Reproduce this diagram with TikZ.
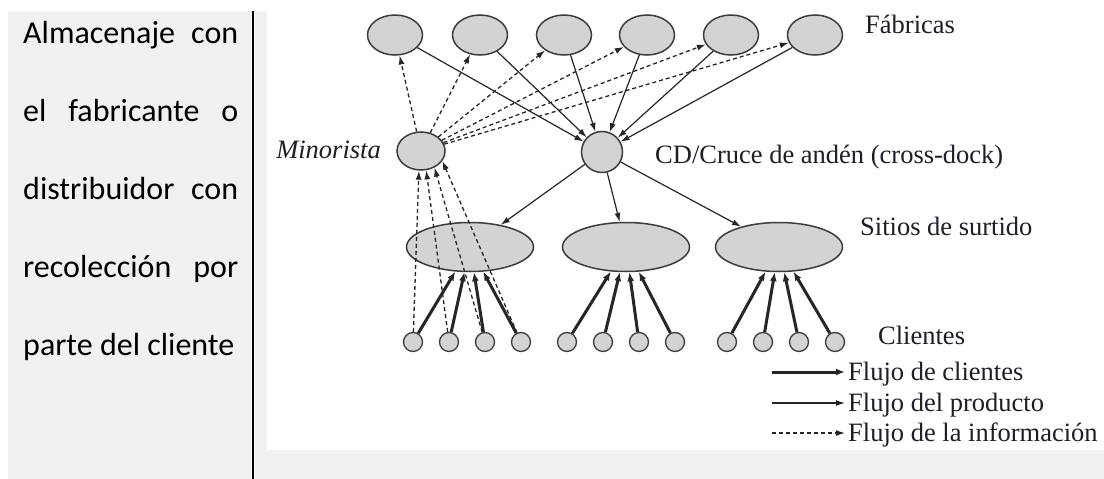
\documentclass[tikz,border=0pt]{standalone}
\usepackage{fontspec}
\setmainfont{Liberation Serif}
\newfontfamily\calfont{Carlito}
\usetikzlibrary{shapes.geometric,arrows.meta}
\definecolor{panel}{HTML}{F1F1F1}
\definecolor{nodefill}{HTML}{D1D3D4}
\definecolor{nodeline}{HTML}{3C3C3C}
\definecolor{ink}{HTML}{1E1E2A}
\definecolor{arrowc}{HTML}{262626}
\begin{document}
\begin{tikzpicture}[x=1pt,y=-1pt,
  fab/.style={ellipse,draw=nodeline,fill=nodefill,line width=1.5pt,minimum width=55pt,minimum height=40pt,inner sep=0pt},
  ret/.style={fab,minimum width=48pt,minimum height=38pt},
  cdnode/.style={circle,draw=nodeline,fill=nodefill,line width=1.5pt,minimum size=41pt,inner sep=0pt},
  site/.style={fab,minimum width=127pt,minimum height=49pt},
  cli/.style={circle,draw=nodeline,fill=nodefill,line width=1.3pt,minimum size=19pt,inner sep=0pt},
  lbl/.style={font=\fontsize{26.5}{30}\selectfont,text=ink,inner sep=0pt},
  prod/.style={draw=arrowc,line width=1.2pt,-{Latex[length=9pt,width=6pt]}},
  cust/.style={draw=arrowc,line width=3pt,-{Latex[length=9pt,width=7pt]}},
  info/.style={draw=arrowc,line width=1.3pt,dash pattern=on 4pt off 3pt,-{Latex[length=9pt,width=6pt]}},
  side/.style={font=\calfont\fontsize{32}{36}\selectfont,text=black,inner sep=0pt,anchor=base west},
]
\useasboundingbox (0,0) rectangle (1104,479);
\fill[white] (0,0) rectangle (1104,479);
\fill[panel] (8,11) rectangle (251,479);
\fill[panel] (255,11) rectangle (1104,479);
\fill[white] (267,11) rectangle (1104,450);
\draw[line width=2pt] (253,11) -- (253,479);

% left text
\node[side] (t1) at (23,43) {\makebox[215pt][s]{Almacenaje con}};
\node[side] (t2) at (23,121) {\makebox[215pt][s]{el fabricante o}};
\node[side] (t3) at (23,199) {\makebox[215pt][s]{distribuidor con}};
\node[side] (t4) at (23,277) {\makebox[215pt][s]{recolección por}};
\node[side] (t5) at (23,355) {parte del cliente};

% factories
\foreach \i/\x in {1/395,2/480,3/564,4/647,5/731,6/815} \node[fab] (f\i) at (\x,35) {};
\node[lbl,anchor=base west] (fablbl) at (865,34) {Fábricas};

% retailer and cross-dock
\node[ret] (min) at (421,151) {};
\node[lbl,anchor=base east,font=\itshape\fontsize{26.5}{30}\selectfont] (minlbl) at (381,158) {Minorista};
\node[cdnode] (cd) at (602,152) {};
\node[lbl,anchor=base west] (cdlbl) at (655,163) {CD/Cruce de andén (cross-dock)};

% sites
\node[site] (s1) at (470,247) {};
\node[site] (s2) at (626,247) {};
\node[site] (s3) at (779,247) {};
\node[lbl,anchor=base west] (sitlbl) at (860,235) {Sitios de surtido};

% clients
\foreach \i/\x in {1/413,2/449,3/485,4/521,5/567,6/603,7/639,8/675,9/727,10/763,11/799,12/835} \node[cli] (c\i) at (\x,342) {};
\node[lbl,anchor=base west] (clilbl) at (878,344) {Clientes};

% product flow
\foreach \i in {1,...,6} \draw[prod] (f\i) -- (cd);
\foreach \i in {1,2,3} \draw[prod] (cd) -- (s\i);

% customer flow
\foreach \i in {1,...,4} \draw[cust] (c\i) -- (s1);
\foreach \i in {5,...,8} \draw[cust] (c\i) -- (s2);
\foreach \i in {9,...,12} \draw[cust] (c\i) -- (s3);

% information flow
\foreach \i in {1,...,6} \draw[info] (min) -- (f\i);
\draw[info] (c1) -- (min.-96);
\draw[info] (c2) -- (min.-75);
\draw[info] (c3) -- (min.-51);
\draw[info] (c4) -- (min.-25);

% legend
\coordinate (l1a) at (772,372); \coordinate (l1b) at (845,372);
\coordinate (l2a) at (772,403); \coordinate (l2b) at (845,403);
\coordinate (l3a) at (772,433); \coordinate (l3b) at (845,433);
\draw[cust] (l1a) -- (l1b);
\draw[prod] (l2a) -- (l2b);
\draw[info] (l3a) -- (l3b);
\node[lbl,anchor=base west] (lg1) at (848,380) {Flujo de clientes};
\node[lbl,anchor=base west] (lg2) at (848,411) {Flujo del producto};
\node[lbl,anchor=base west] (lg3) at (848,441) {Flujo de la información};
\end{tikzpicture}
\end{document}
